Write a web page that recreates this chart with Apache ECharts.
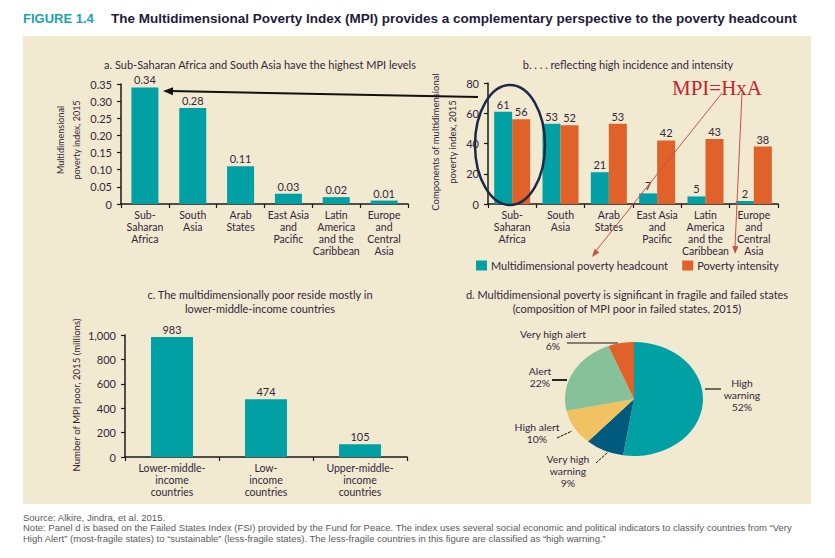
<!DOCTYPE html>
<html><head><meta charset="utf-8">
<script src="https://cdn.jsdelivr.net/npm/echarts@6/dist/echarts.min.js"></script>
<style>
html,body{margin:0;padding:0;background:#fff;}
#main{position:absolute;left:0;top:0;width:835px;height:558px;}
#pie{position:absolute;left:554px;top:334px;width:160px;height:130px;transform:scaleX(1.21);transform-origin:50% 50%;}
</style></head>
<body>
<div id="main"></div>
<div id="pie"></div>
<script>
// ---- data ----
const regionCategories = ['Sub-\nSaharan\nAfrica','South\nAsia','Arab\nStates','East Asia\nand\nPacific','Latin\nAmerica\nand the\nCaribbean','Europe\nand\nCentral\nAsia'];
const mpiValues = [0.34, 0.28, 0.11, 0.03, 0.02, 0.01];
const headcountValues = [61, 53, 21, 7, 5, 2];
const intensityValues = [56, 52, 53, 42, 43, 38];
const incomeCategories = ['Lower-middle-\nincome\ncountries','Low-\nincome\ncountries','Upper-middle-\nincome\ncountries'];
const mpiPoorValues = [983, 474, 105];
const fragilityNames = ['High warning','Very high warning','High alert','Alert','Very high alert'];
const fragilityShares = [52, 9, 10, 22, 6];
const fragilityLabels = ['High\nwarning\n52%','Very high\nwarning\n9%','High alert\n10%','Alert\n22%','Very high alert\n6%'];

const TEAL = '#00a0a4', ORANGE = '#e0622a';
const TXT = '#33263f';
const FONT = 'Lato, "Noto Sans", sans-serif';
const FS = 11;     // single-line texts
const FSM = 10;    // multi-line texts
const LH = 12;

function txt(x, y, text, opt) {
  opt = opt || {};
  return {type:'text', x:x, y:y, rotation: opt.rotation || 0, z: 50,
    style:{text:text, fill: opt.fill || TXT, font: opt.font || (FS + 'px ' + FONT),
      textAlign: opt.align || 'center', textVerticalAlign: opt.valign || 'middle', lineHeight: opt.lh || 14}};
}
function line(x1,y1,x2,y2,color,w,dash){
  return {type:'line', z:50, shape:{x1:x1,y1:y1,x2:x2,y2:y2}, style:{stroke:color,lineWidth:w,lineDash:dash||null}};
}
function arrowHead(x1,y1,x2,y2,color,len,half){
  const a = Math.atan2(y2-y1, x2-x1);
  const bx = x2 - len*Math.cos(a), by = y2 - len*Math.sin(a);
  const px = -Math.sin(a)*half, py = Math.cos(a)*half;
  return {type:'polygon', z:51, shape:{points:[[x2,y2],[bx+px,by+py],[bx-px,by-py]]}, style:{fill:color}};
}

const axisLine = {show:true, lineStyle:{color:'#1a1a1a', width:1.5}};
const axisTick = {show:true, length:4, lineStyle:{color:'#1a1a1a', width:1.2}};

function catAxis(gi, data){
  return {type:'category', gridIndex:gi, data:data, axisLine:axisLine,
    axisTick:Object.assign({alignWithLabel:false}, axisTick),
    axisLabel:{interval:0, margin:5, color:TXT, fontSize:FSM + 0.5, fontFamily:FONT, lineHeight:LH}};
}
function valAxis(gi, max, interval, fmt){
  return {type:'value', gridIndex:gi, min:0, max:max, interval:interval, axisLine:axisLine,
    axisTick:axisTick, splitLine:{show:false},
    axisLabel:{margin:9, formatter:fmt, color:TXT, fontSize:FS, fontFamily:FONT}};
}
const labelStyle = {show:true, position:'top', distance:2, color:TXT, fontSize:FS, fontFamily:FONT};

const chart = echarts.init(document.getElementById('main'), null, {renderer:'svg'});
chart.setOption({
  animation:false,
  backgroundColor:'#ffffff',
  grid:[
    {left:121, top:84, width:287, height:120},
    {left:488, top:83, width:290, height:121},
    {left:125, top:335, width:282, height:122}
  ],
  xAxis:[catAxis(0, regionCategories), catAxis(1, regionCategories), catAxis(2, incomeCategories)],
  yAxis:[
    valAxis(0, 0.35, 0.05, v => v === 0 ? '0' : v.toFixed(2)),
    valAxis(1, 80, 20, v => String(v)),
    valAxis(2, 1000, 200, v => v.toLocaleString('en-US'))
  ],
  legend:{data:['Multidimensional poverty headcount','Poverty intensity'], left:471, top:255,
    itemWidth:11, itemHeight:10, itemGap:14, icon:'rect',
    textStyle:{color:TXT, fontSize:FS, fontFamily:FONT, padding:[0,0,0,-1]}},
  series:[
    {type:'bar', name:'MPI', xAxisIndex:0, yAxisIndex:0, data:mpiValues, barWidth:27,
      itemStyle:{color:TEAL}, label:Object.assign({formatter:p => p.value.toFixed(2)}, labelStyle)},
    {type:'bar', name:'Multidimensional poverty headcount', xAxisIndex:1, yAxisIndex:1, data:headcountValues,
      barWidth:18, barGap:'0%', itemStyle:{color:TEAL}, label:labelStyle},
    {type:'bar', name:'Poverty intensity', xAxisIndex:1, yAxisIndex:1, data:intensityValues,
      barWidth:18, barGap:'0%', itemStyle:{color:ORANGE}, label:labelStyle},
    {type:'bar', name:'MPI poor', xAxisIndex:2, yAxisIndex:2, data:mpiPoorValues, barWidth:42,
      itemStyle:{color:TEAL}, label:labelStyle}
  ],
  graphic:[
    {type:'rect', z:-10, shape:{x:23,y:36,width:788,height:468}, style:{fill:'#f2ead0'}},
    txt(23, 18, 'FIGURE 1.4', {align:'left', fill:'#1aa2b4', font:'bold 13px "Liberation Sans", sans-serif'}),
    txt(111, 18, 'The Multidimensional Poverty Index (MPI) provides a complementary perspective to the poverty headcount',
      {align:'left', fill:'#1f1b3a', font:'bold 13.5px "Liberation Sans", sans-serif'}),
    // panel titles
    txt(260, 64, 'a. Sub-Saharan Africa and South Asia have the highest MPI levels'),
    txt(628, 64, 'b. . . . reflecting high incidence and intensity'),
    txt(260, 301, 'c. The multidimensionally poor reside mostly in\nlower-middle-income countries', {lh:14}),
    txt(627, 301, 'd. Multidimensional poverty is significant in fragile and failed states\n(composition of MPI poor in failed states, 2015)', {lh:14}),
    // y axis names
    txt(68, 140, 'Multidimensional\npoverty index, 2015', {rotation:Math.PI/2, lh:16, font:'9px ' + FONT}),
    txt(444, 142, 'Components of multidimensional\npoverty index, 2015', {rotation:Math.PI/2, lh:17, font:'9.5px ' + FONT}),
    txt(76, 395, 'Number of MPI poor, 2015 (millions)', {rotation:Math.PI/2, font:'9.6px ' + FONT}),
    // annotations
    line(478, 97, 170, 91, '#111', 2),
    arrowHead(478, 97, 163, 91, '#111', 10, 4),
    {type:'ellipse', z:52, shape:{cx:510, cy:145, rx:35, ry:60}, style:{fill:'none', stroke:'#1c2a48', lineWidth:2.5}},
    txt(672, 88, 'MPI=HxA', {align:'left', fill:'#c0272d', font:'21px "Liberation Serif", "DejaVu Serif", serif'}),
    line(722, 93, 595, 252, '#c8504a', 1),
    arrowHead(722, 93, 592, 257, '#c8504a', 8, 3),
    line(742, 93, 735, 247, '#c8504a', 1),
    arrowHead(742, 93, 735, 254, '#c8504a', 8, 3),
    // pie labels
    txt(742, 395, fragilityLabels[0], {lh:LH, font:'10.4px ' + FONT}),
    line(705, 389, 721, 389, '#111', 1.2),
    txt(568, 471, fragilityLabels[1], {lh:LH, font:'10.4px ' + FONT}),
    line(596, 463, 608, 452, '#111', 1, [3,1]),
    txt(537, 433, fragilityLabels[2], {lh:LH, font:'10.4px ' + FONT}),
    line(557, 438, 572, 431, '#111', 1, [3,1]),
    txt(540, 377, fragilityLabels[3], {lh:LH, font:'10.4px ' + FONT}),
    line(552, 380, 567, 380, '#111', 1.8),
    txt(553, 340, fragilityLabels[4], {lh:LH, font:'10.4px ' + FONT}),
    line(567, 343, 618, 343, '#111', 1.2),
    // footnote
    txt(23, 517, 'Source: Alkire, Jindra, et al. 2015.', {align:'left', fill:'#5a5a5a', font:'9.5px "Liberation Sans", sans-serif'}),
    txt(23, 527, 'Note: Panel d is based on the Failed States Index (FSI) provided by the Fund for Peace. The index uses several social economic and political indicators to classify countries from \u201cVery', {align:'left', fill:'#5a5a5a', font:'9.5px "Liberation Sans", sans-serif'}),
    txt(23, 538, 'High Alert\u201d (most-fragile states) to \u201csustainable\u201d (less-fragile states). The less-fragile countries in this figure are classified as \u201chigh warning.\u201d', {align:'left', fill:'#5a5a5a', font:'9.5px "Liberation Sans", sans-serif'})
  ]
});

const pie = echarts.init(document.getElementById('pie'), null, {renderer:'svg'});
pie.setOption({
  animation:false,
  color:['#00a0a4','#005a7d','#f1c262','#86c19a','#e0622a'],
  series:[{type:'pie', center:['50%','50%'], radius:57, startAngle:90, clockwise:true,
    label:{show:false}, labelLine:{show:false},
    data:fragilityNames.map((n,i)=>({name:n, value:fragilityShares[i]}))}]
});
</script>
</body></html>
